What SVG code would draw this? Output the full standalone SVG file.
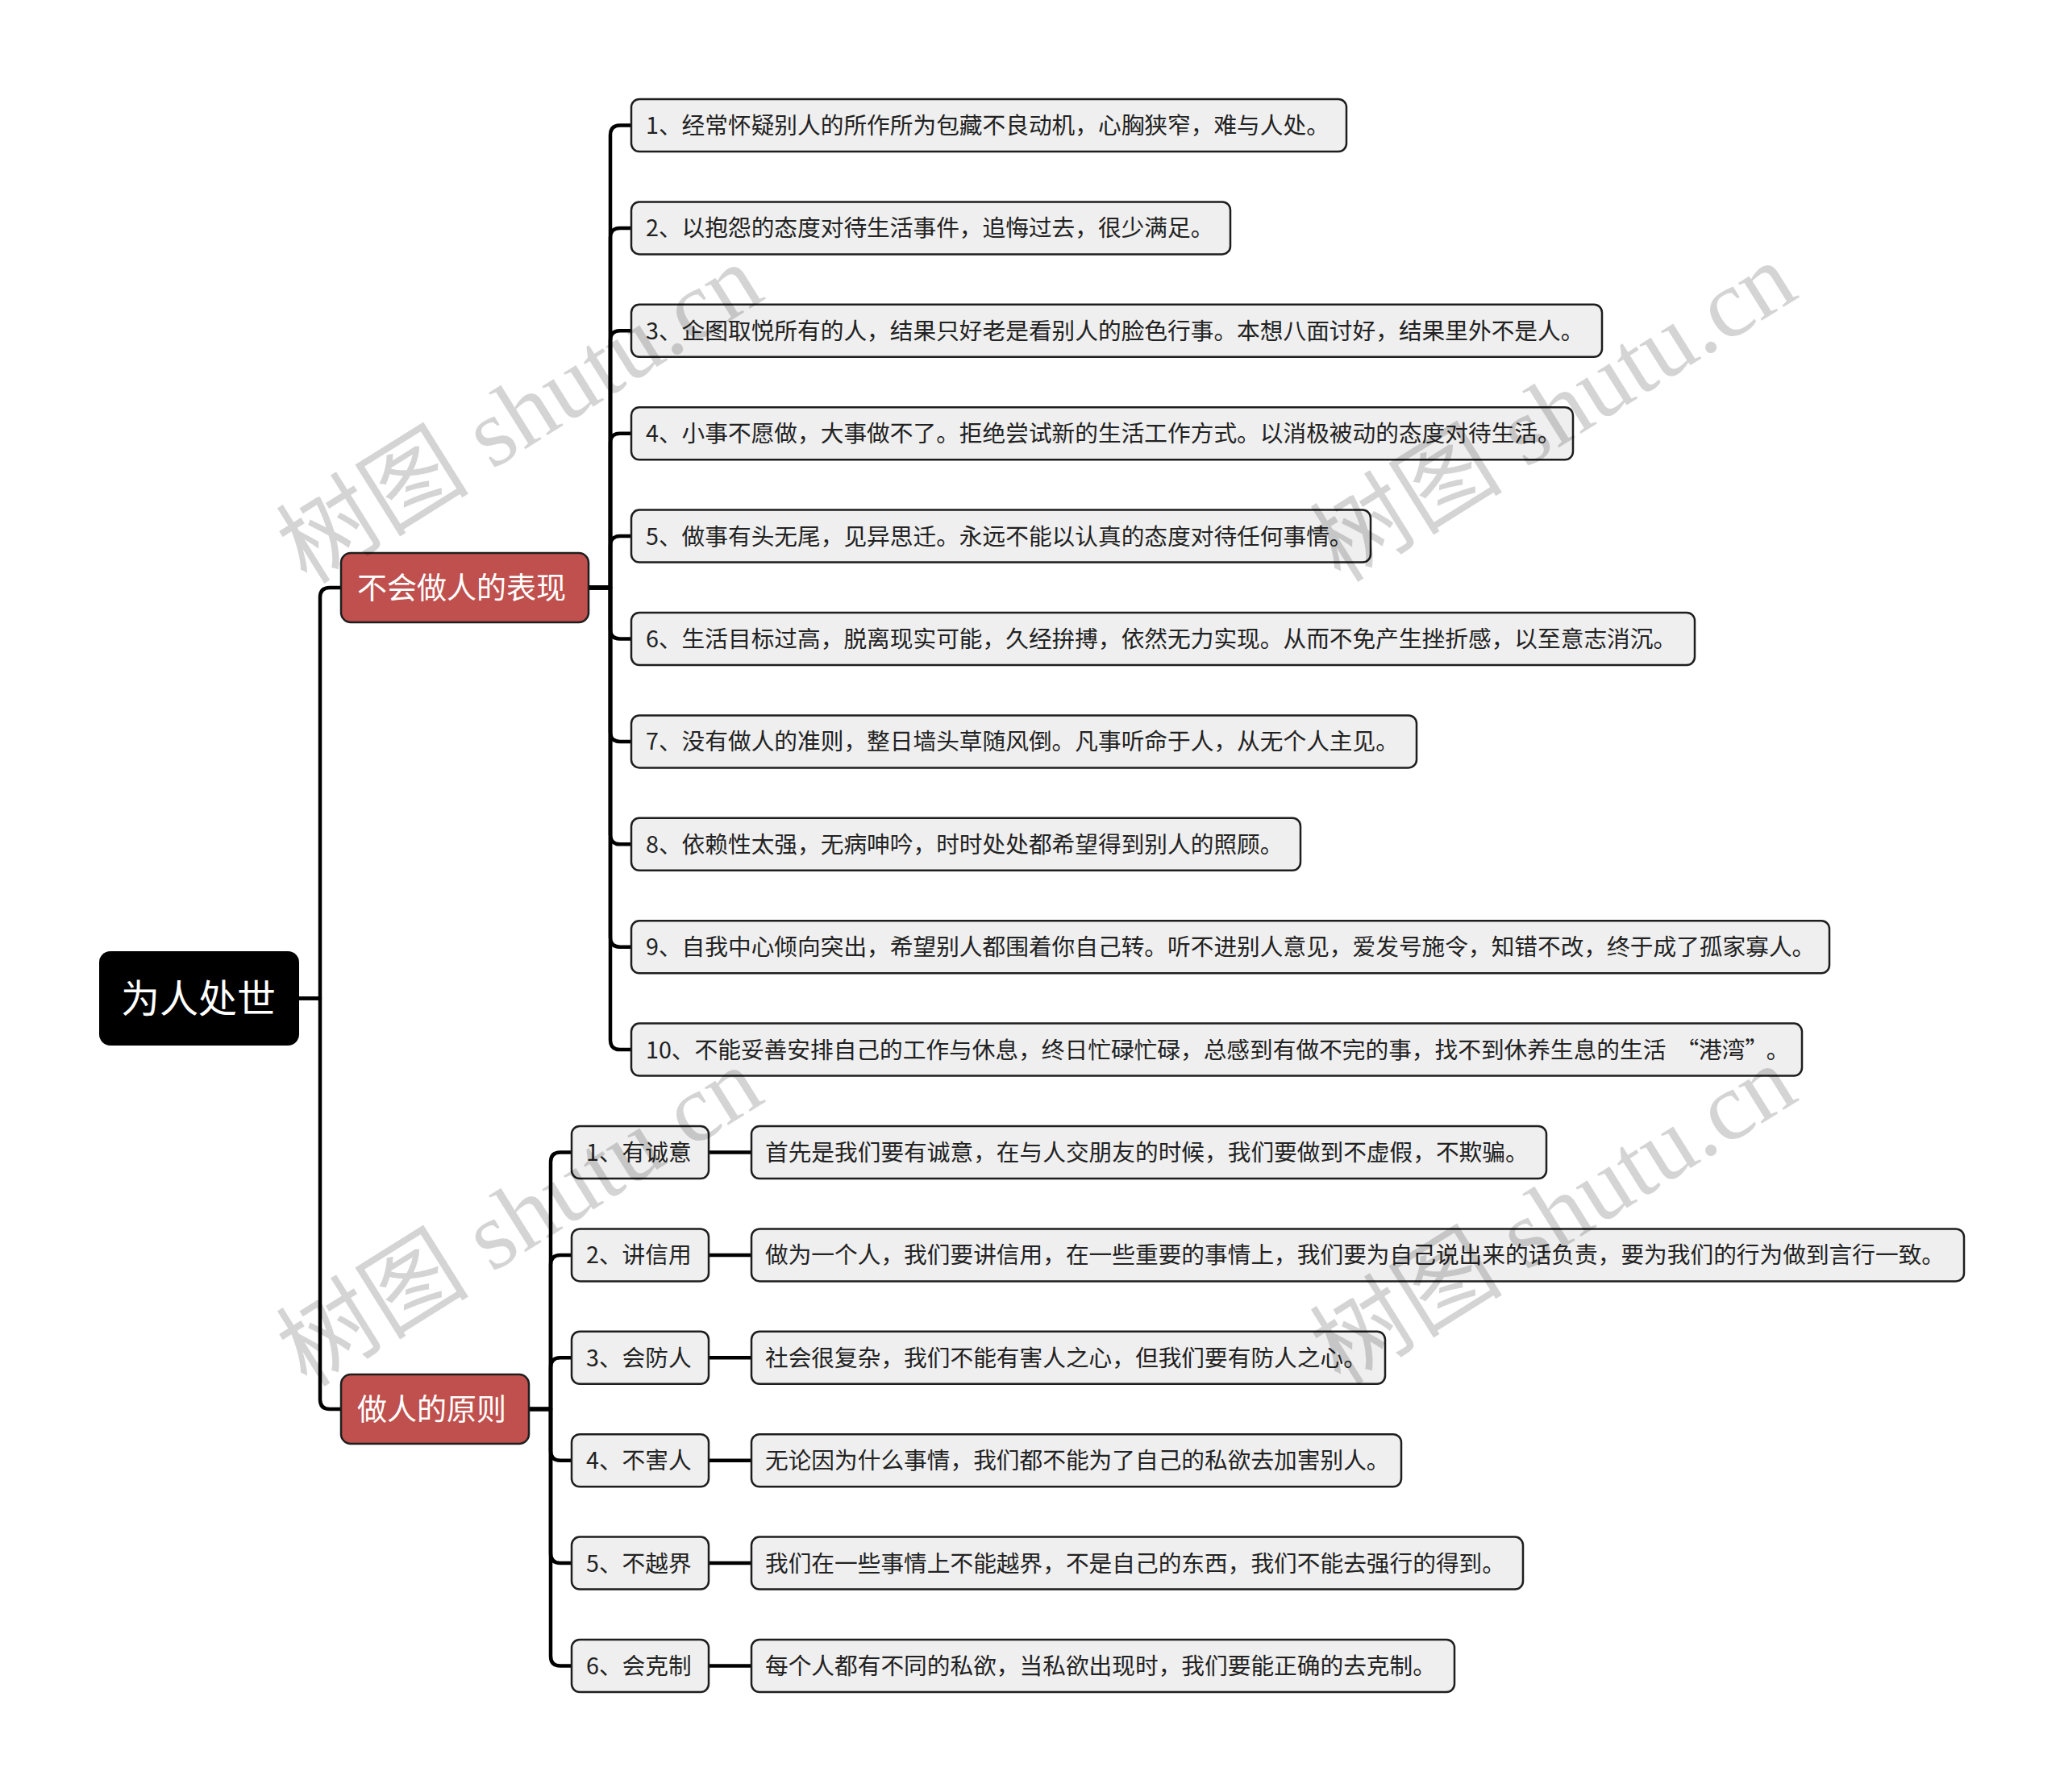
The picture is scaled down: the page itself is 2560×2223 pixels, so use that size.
<svg xmlns="http://www.w3.org/2000/svg" width="2560" height="2223" viewBox="0 0 2560 2223">
<style>
.conn{fill:none;stroke:#000;stroke-width:4.5;stroke-linejoin:round}
.leaf rect{fill:#efefef;stroke:#1e1e1e;stroke-width:2.5}
.leaf text{font-family:"Noto Sans CJK SC","Microsoft YaHei",sans-serif;font-size:28.7px;fill:#222}
.branch rect{fill:#c0504d;stroke:#1e1e1e;stroke-width:2.5}
.branch text{font-family:"Noto Sans CJK SC","Microsoft YaHei",sans-serif;font-size:37px;fill:#fff}
.root rect{fill:#000}
.root text{font-family:"Noto Sans CJK SC","Microsoft YaHei",sans-serif;font-size:48px;fill:#fff}
.wm{font-family:"Liberation Serif","Noto Sans CJK SC",serif;font-size:120px;fill:#000;fill-opacity:0.17}
</style>
<rect x="0" y="0" width="2560" height="2223" fill="#fff"/>
<g id="connectors">
<path class="conn" d="M371,1238.5 H397 V741 Q397,729 409,729 H423"/>
<path class="conn" d="M371,1238.5 H397 V1736 Q397,1748 409,1748 H423"/>
<path class="conn" d="M730,729 H757 V167.5 Q757,155.5 769,155.5 H783"/>
<path class="conn" d="M730,729 H757 V294.9 Q757,282.9 769,282.9 H783"/>
<path class="conn" d="M730,729 H757 V422.3 Q757,410.3 769,410.3 H783"/>
<path class="conn" d="M730,729 H757 V549.7 Q757,537.7 769,537.7 H783"/>
<path class="conn" d="M730,729 H757 V677.1 Q757,665.1 769,665.1 H783"/>
<path class="conn" d="M730,729 H757 V780.5 Q757,792.5 769,792.5 H783"/>
<path class="conn" d="M730,729 H757 V907.9 Q757,919.9 769,919.9 H783"/>
<path class="conn" d="M730,729 H757 V1035.3 Q757,1047.3 769,1047.3 H783"/>
<path class="conn" d="M730,729 H757 V1162.7 Q757,1174.7 769,1174.7 H783"/>
<path class="conn" d="M730,729 H757 V1290.1 Q757,1302.1 769,1302.1 H783"/>
<path class="conn" d="M656,1748 H683 V1441.5 Q683,1429.5 695,1429.5 H709"/>
<path class="conn" d="M656,1748 H683 V1568.9 Q683,1556.9 695,1556.9 H709"/>
<path class="conn" d="M656,1748 H683 V1696.3 Q683,1684.3 695,1684.3 H709"/>
<path class="conn" d="M656,1748 H683 V1799.7 Q683,1811.7 695,1811.7 H709"/>
<path class="conn" d="M656,1748 H683 V1927.1 Q683,1939.1 695,1939.1 H709"/>
<path class="conn" d="M656,1748 H683 V2054.5 Q683,2066.5 695,2066.5 H709"/>
<path class="conn" d="M879,1429.5 H932"/>
<path class="conn" d="M879,1556.9 H932"/>
<path class="conn" d="M879,1684.3 H932"/>
<path class="conn" d="M879,1811.7 H932"/>
<path class="conn" d="M879,1939.1 H932"/>
<path class="conn" d="M879,2066.5 H932"/>
</g>
<g id="root" class="root"><rect x="123" y="1180" width="248" height="117" rx="14"/><text x="150" y="1256">为人处世</text></g>
<g id="b1" class="branch"><rect x="423" y="686" width="307" height="86" rx="12"/><text x="443" y="743">不会做人的表现</text></g>
<g id="b2" class="branch"><rect x="423" y="1705" width="233" height="86" rx="12"/><text x="443" y="1762">做人的原则</text></g>
<g id="n1" class="leaf"><rect x="783" y="123" width="887" height="65" rx="10"/><text x="801" y="166">1、经常怀疑别人的所作所为包藏不良动机，心胸狭窄，难与人处。</text></g>
<g id="n2" class="leaf"><rect x="783" y="250.4" width="743" height="65" rx="10"/><text x="801" y="293.4">2、以抱怨的态度对待生活事件，追悔过去，很少满足。</text></g>
<g id="n3" class="leaf"><rect x="783" y="377.8" width="1204" height="65" rx="10"/><text x="801" y="420.8">3、企图取悦所有的人，结果只好老是看别人的脸色行事。本想八面讨好，结果里外不是人。</text></g>
<g id="n4" class="leaf"><rect x="783" y="505.2" width="1168" height="65" rx="10"/><text x="801" y="548.2">4、小事不愿做，大事做不了。拒绝尝试新的生活工作方式。以消极被动的态度对待生活。</text></g>
<g id="n5" class="leaf"><rect x="783" y="632.6" width="917" height="65" rx="10"/><text x="801" y="675.6">5、做事有头无尾，见异思迁。永远不能以认真的态度对待任何事情。</text></g>
<g id="n6" class="leaf"><rect x="783" y="760" width="1319" height="65" rx="10"/><text x="801" y="803">6、生活目标过高，脱离现实可能，久经拚搏，依然无力实现。从而不免产生挫折感，以至意志消沉。</text></g>
<g id="n7" class="leaf"><rect x="783" y="887.4" width="974" height="65" rx="10"/><text x="801" y="930.4">7、没有做人的准则，整日墙头草随风倒。凡事听命于人，从无个人主见。</text></g>
<g id="n8" class="leaf"><rect x="783" y="1014.8" width="830" height="65" rx="10"/><text x="801" y="1057.8">8、依赖性太强，无病呻吟，时时处处都希望得到别人的照顾。</text></g>
<g id="n9" class="leaf"><rect x="783" y="1142.2" width="1486" height="65" rx="10"/><text x="801" y="1185.2">9、自我中心倾向突出，希望别人都围着你自己转。听不进别人意见，爱发号施令，知错不改，终于成了孤家寡人。</text></g>
<g id="n10" class="leaf"><rect x="783" y="1269.6" width="1452" height="65" rx="10"/><text x="801" y="1312.6">10、不能妥善安排自己的工作与休息，终日忙碌忙碌，总感到有做不完的事，找不到休养生息的生活<tspan dx="12">“</tspan>港湾”<tspan dx="12">。</tspan></text></g>
<g id="p1" class="leaf"><rect x="709" y="1397" width="170" height="65" rx="10"/><text x="727" y="1440">1、有诚意</text></g>
<g id="p2" class="leaf"><rect x="709" y="1524.4" width="170" height="65" rx="10"/><text x="727" y="1567.4">2、讲信用</text></g>
<g id="p3" class="leaf"><rect x="709" y="1651.8" width="170" height="65" rx="10"/><text x="727" y="1694.8">3、会防人</text></g>
<g id="p4" class="leaf"><rect x="709" y="1779.2" width="170" height="65" rx="10"/><text x="727" y="1822.2">4、不害人</text></g>
<g id="p5" class="leaf"><rect x="709" y="1906.6" width="170" height="65" rx="10"/><text x="727" y="1949.6">5、不越界</text></g>
<g id="p6" class="leaf"><rect x="709" y="2034" width="170" height="65" rx="10"/><text x="727" y="2077">6、会克制</text></g>
<g id="d1" class="leaf"><rect x="932" y="1397" width="986" height="65" rx="10"/><text x="949" y="1440">首先是我们要有诚意，在与人交朋友的时候，我们要做到不虚假，不欺骗。</text></g>
<g id="d2" class="leaf"><rect x="932" y="1524.4" width="1504" height="65" rx="10"/><text x="949" y="1567.4">做为一个人，我们要讲信用，在一些重要的事情上，我们要为自己说出来的话负责，要为我们的行为做到言行一致。</text></g>
<g id="d3" class="leaf"><rect x="932" y="1651.8" width="786" height="65" rx="10"/><text x="949" y="1694.8">社会很复杂，我们不能有害人之心，但我们要有防人之心。</text></g>
<g id="d4" class="leaf"><rect x="932" y="1779.2" width="806" height="65" rx="10"/><text x="949" y="1822.2">无论因为什么事情，我们都不能为了自己的私欲去加害别人。</text></g>
<g id="d5" class="leaf"><rect x="932" y="1906.6" width="957" height="65" rx="10"/><text x="949" y="1949.6">我们在一些事情上不能越界，不是自己的东西，我们不能去强行的得到。</text></g>
<g id="d6" class="leaf"><rect x="932" y="2034" width="872" height="65" rx="10"/><text x="949" y="2077">每个人都有不同的私欲，当私欲出现时，我们要能正确的去克制。</text></g>
<g id="watermarks">
<text class="wm" text-anchor="middle" transform="translate(645,514) rotate(-32)" y="40">树图 shutu.cn</text>
<text class="wm" text-anchor="middle" transform="translate(1927,512) rotate(-32)" y="40">树图 shutu.cn</text>
<text class="wm" text-anchor="middle" transform="translate(645,1510) rotate(-32)" y="40">树图 shutu.cn</text>
<text class="wm" text-anchor="middle" transform="translate(1927,1508) rotate(-32)" y="40">树图 shutu.cn</text>
</g>
</svg>
